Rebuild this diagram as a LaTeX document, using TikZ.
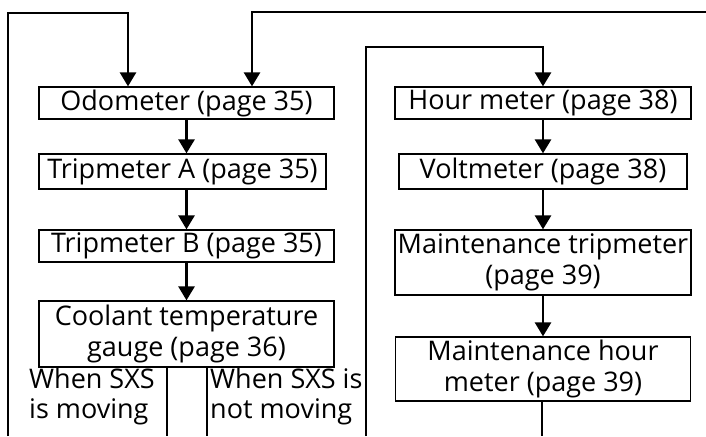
\documentclass[tikz,border=0pt]{standalone}
\usepackage{fontspec}
\setmainfont{Open Sans}
\usetikzlibrary{arrows.meta}
\begin{document}
\begin{tikzpicture}[x=1pt,y=-1pt,
  box/.style={draw,line width=1.2pt,inner sep=0pt,align=center,
    font=\fontsize{27}{31}\selectfont},
  conn/.style={line width=2.6pt},
  arr/.style={conn,-{Triangle[width=16pt,length=14pt]}},
  thin/.style={line width=2.2pt},
  lbl/.style={align=left,inner sep=0pt,anchor=north west,font=\fontsize{27}{29.5}\selectfont}]
\useasboundingbox (0,0) rectangle (706,436);
% left column
\node[box,minimum width=295pt,minimum height=32pt] (odo) at (186.5,103) {Odometer (page 35)};
\node[box,minimum width=287pt,minimum height=35pt] (ta) at (182.5,171.5) {Tripmeter A (page 35)};
\node[box,minimum width=295pt,minimum height=32pt] (tb) at (186.5,246) {Tripmeter B (page 35)};
\node[box,minimum width=295pt,minimum height=66pt] (cool) at (186.5,334) {Coolant temperature\\gauge (page 36)};
% right column
\node[box,minimum width=296pt,minimum height=32pt] (hour) at (543,103) {Hour meter (page 38)};
\node[box,minimum width=288pt,minimum height=35pt] (volt) at (543,171.5) {Voltmeter (page 38)};
\node[box,minimum width=296pt,minimum height=65pt] (mt) at (543,262.5) {Maintenance tripmeter\\(page 39)};
\node[box,minimum width=295pt,minimum height=64pt] (mh) at (543,369) {Maintenance hour\\meter (page 39)};
% labels
\node[lbl] (l1) at (29,368) {When SXS\\is moving};
\node[lbl] (l2) at (210,368) {When SXS is\\not moving};
% coordinates
\coordinate (lb) at (8,436);
\coordinate (lt) at (8,13);
\coordinate (la) at (128,13);
\coordinate (rr) at (706,12);
\coordinate (ra) at (252,12);
\coordinate (cb) at (366,436);
\coordinate (ct) at (366,47);
\coordinate (ca) at (543,47);
\coordinate (s1) at (167,436);
\coordinate (s2) at (207,436);
\coordinate (mb) at (542,436);
% connectors
\draw[arr] (lb) -- (lt) -- (la) -- (la |- odo.north);
\draw[arr] (rr) -- (ra) -- (ra |- odo.north);
\draw[arr] (cb) -- (ct) -- (ca) -- (hour.north);
\draw[arr] (odo.south) -- (ta.north -| odo.south);
\draw[arr] (ta.south -| odo.south) -- (tb.north);
\draw[arr] (tb.south) -- (cool.north);
\draw[arr] (hour.south) -- (volt.north);
\draw[arr] (volt.south) -- (mt.north);
\draw[arr] (mt.south) -- (mh.north);
\draw[thin] (cool.south -| s1) -- (s1);
\draw[thin] (cool.south -| s2) -- (s2);
\draw[thin] (mh.south -| mb) -- (mb);
\end{tikzpicture}
\end{document}
